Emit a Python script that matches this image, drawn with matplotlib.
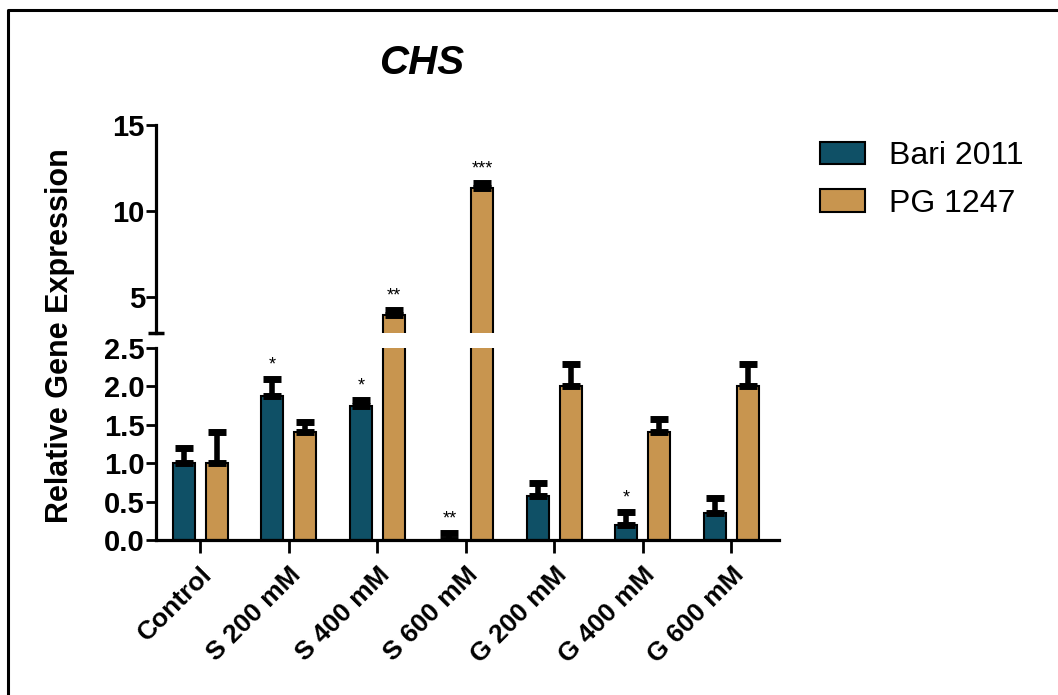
import numpy as np
import matplotlib
matplotlib.use('Agg')
import matplotlib.pyplot as plt
from matplotlib.lines import Line2D

plt.rcParams['font.family'] = ['Liberation Sans', 'DejaVu Sans']

# data
groups = ['Control', 'S 200 mM', 'S 400 mM', 'S 600 mM', 'G 200 mM', 'G 400 mM', 'G 600 mM']
bari = [1.0, 1.87, 1.75, 0.0, 0.57, 0.20, 0.35]
bari_err = [0.20, 0.23, 0.07, 0.095, 0.17, 0.17, 0.20]
pg = [1.0, 1.41, 3.95, 11.32, 2.0, 1.41, 2.0]
pg_err = [0.40, 0.12, 0.28, 0.28, 0.29, 0.17, 0.29]
bari_sig = ['', '*', '*', '**', '', '*', '']
pg_sig = ['', '', '**', '***', '', '', '']

teal = '#0f5066'
tan = '#c8954f'

W, H = 1058, 695
fig = plt.figure(figsize=(W / 100, H / 100), dpi=100)

ax_lo = fig.add_axes([156 / W, 1 - 540 / H, (779 - 156) / W, (540 - 348) / H])
ax_hi = fig.add_axes([156 / W, 1 - 333 / H, (779 - 156) / W, (333 - 125) / H])

x = np.arange(len(groups))
off, bw = 0.185, 0.25
lw_sp = 2.3

for ax in (ax_lo, ax_hi):
    for xs, vals, errs, col in ((x - off, bari, bari_err, teal), (x + off, pg, pg_err, tan)):
        ax.bar(xs, vals, width=bw, color=col, edgecolor='black', linewidth=1.5, zorder=2)
        ax.errorbar(xs, vals, yerr=[np.zeros(len(vals)), errs], fmt='none', ecolor='black',
                    elinewidth=4, capsize=6.5, capthick=5, zorder=3)
    ax.set_xlim(-0.5, 6.54)
    for s in ('top', 'right'):
        ax.spines[s].set_visible(False)
    ax.spines['left'].set_linewidth(lw_sp)
    ax.spines['bottom'].set_linewidth(lw_sp)
    ax.tick_params(axis='y', length=7, width=2, labelsize=21, pad=1)

ax_lo.set_ylim(0, 2.5)
ax_lo.set_yticks([0, 0.5, 1.0, 1.5, 2.0, 2.5])
ax_lo.set_yticklabels(['%.1f' % v for v in [0, 0.5, 1.0, 1.5, 2.0, 2.5]], fontweight='bold')
ax_lo.set_xticks(x)
ax_lo.set_xticklabels(groups, rotation=45, ha='right', rotation_mode='anchor',
                      fontsize=19, fontweight='bold')
ax_lo.tick_params(axis='x', length=9, width=2, pad=7)

ax_hi.set_ylim(2.91, 15)
ax_hi.set_yticks([5, 10, 15])
ax_hi.set_yticklabels(['5', '10', '15'], fontweight='bold')
ax_hi.set_yticks([2.91], minor=True)
ax_hi.tick_params(axis='y', which='minor', direction='inout', length=12, width=2.5)
ax_hi.spines['bottom'].set_visible(False)
ax_hi.set_xticks([])

# significance marks
for xs, vals, errs, sig in ((x - off, bari, bari_err, bari_sig), (x + off, pg, pg_err, pg_sig)):
    for xi, v, e, s in zip(xs, vals, errs, sig):
        if not s:
            continue
        ax = ax_hi if v > 2.5 else ax_lo
        ax.annotate(s, (xi, v + e), xytext=(0, 4), textcoords='offset points',
                    ha='center', va='bottom', fontsize=13)

fig.text(422 / W, 1 - 63 / H, 'CHS', fontsize=29, fontweight='bold', style='italic',
         ha='center', va='center')
fig.text(60 / W, 1 - 336 / H, 'Relative Gene Expression', fontsize=22, fontweight='bold',
         rotation=90, ha='center', va='center')

handles = [plt.Rectangle((0, 0), 1, 1, facecolor=teal, edgecolor='black', linewidth=1.5),
           plt.Rectangle((0, 0), 1, 1, facecolor=tan, edgecolor='black', linewidth=1.5)]
fig.legend(handles, ['Bari 2011', 'PG 1247'], loc='upper left',
           bbox_to_anchor=(820 / W, 1 - 141 / H), frameon=False, fontsize=23,
           handlelength=1.4, handleheight=0.7, handletextpad=0.75, labelspacing=0.55,
           borderpad=0, borderaxespad=0)

# outer frame (top and left only)
fig.add_artist(Line2D([8 / W, 8 / W, 1], [0, 1 - 10 / H, 1 - 10 / H],
                      transform=fig.transFigure, color='black', linewidth=2.2))

fig.savefig('out.png', dpi=100)
